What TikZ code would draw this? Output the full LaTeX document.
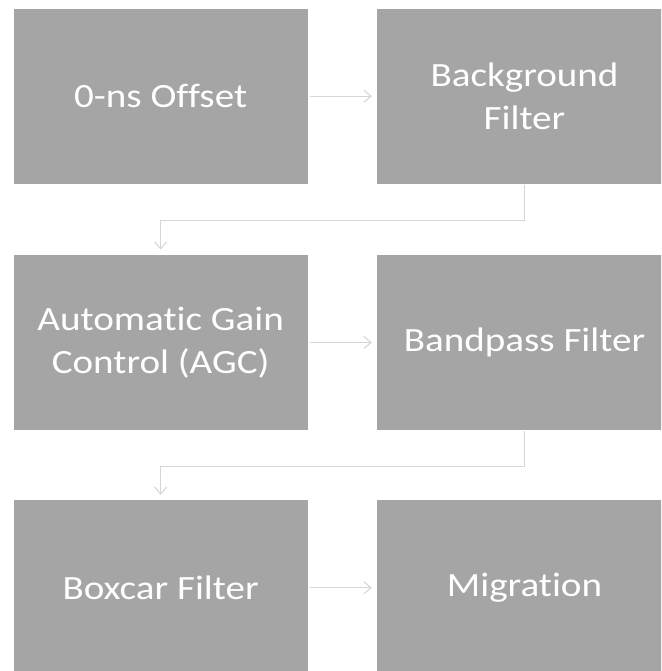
\documentclass[tikz,border=0pt]{standalone}
\usepackage{fontspec}
\setmainfont{Carlito}[FakeStretch=1.15, Ligatures=NoCommon]
\usetikzlibrary{arrows.meta}
\definecolor{boxgray}{HTML}{A5A5A5}
\definecolor{linegray}{HTML}{D6D6D6}
\tikzset{
  procbox/.style={fill=boxgray, draw=none, minimum width=296pt, minimum height=175.4pt,
    text=white, align=center, inner sep=0pt,
    font=\fontsize{34pt}{43.5pt}\selectfont},
  conn/.style={draw=linegray, line width=1.3pt,
    -{Straight Barb[length=7pt,width=12pt,line width=1.1pt]}},
}
\begin{document}
\begin{tikzpicture}[x=1pt,y=-1pt]
\useasboundingbox (0,0) rectangle (661,671);
\clip (0,0) rectangle (661,671);
\node[procbox, minimum width=294.3pt] (a) at (160.65,96.3) {0-ns Offset};
\node[procbox] (b) at (524.5,96.3) {Background\\Filter};
\node[procbox, minimum width=294.3pt] (c) at (160.65,342.5) {Automatic Gain\\Control (AGC)};
\node[procbox] (d) at (524.5,342.5) {Bandpass Filter};
\node[procbox, minimum width=294.3pt] (e) at (160.65,587.7) {Boxcar Filter};
\node[procbox] (f) at (524.5,587.7) {Migration};
\draw[conn, shorten <=1.5pt, shorten >=4.5pt] (a.east) -- (b.west);
\draw[conn, shorten <=1.5pt, shorten >=4.5pt] (c.east) -- (d.west);
\draw[conn, shorten <=1.5pt, shorten >=4.5pt] (e.east) -- (f.west);
\coordinate (m1) at ([yshift=-36pt]b.south);
\coordinate (m2) at ([yshift=-36pt]d.south);
\draw[conn, shorten <=1pt, shorten >=5pt] (b.south) -- (m1) -| (c.north);
\draw[conn, shorten <=1pt, shorten >=5pt] (d.south) -- (m2) -| (e.north);
\end{tikzpicture}
\end{document}
